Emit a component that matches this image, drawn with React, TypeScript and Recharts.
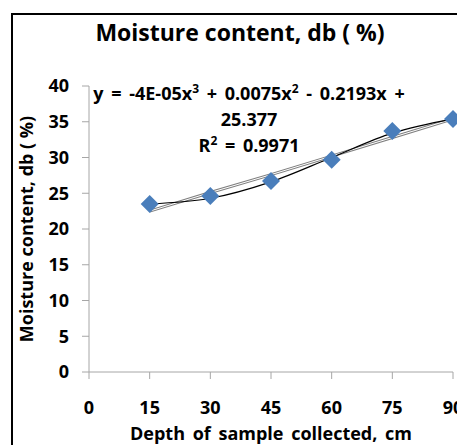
import React from "react";
import {
  LineChart,
  Line,
  XAxis,
  YAxis,
  Label,
} from "recharts";

// depth (cm) vs moisture content, dry basis (%)
const depths = [15, 30, 45, 60, 75, 90];
const moisture = [23.5, 24.6, 26.7, 29.7, 33.7, 35.4];
// polynomial (order 3) trend values at each depth
const polyTrend = [23.5, 24.3, 26.6, 30.0, 33.4, 35.4];
// linear trend values at each depth
const linearTrend = [22.5, 25.1, 27.6, 30.2, 32.8, 35.4];

const xTicks = [0, 15, 30, 45, 60, 75, 90];
const yTicks = [0, 5, 10, 15, 20, 25, 30, 35, 40];

const rows = depths.map((d, i) => ({
  depth: d,
  moisture: moisture[i],
  poly: polyTrend[i],
  linear: linearTrend[i],
}));

const font = "'Open Sans', Lato, sans-serif";
const axisGray = "#a6a6a6";
const markerBlue = "#4a7ebb";
const boldText = { fontWeight: 700, fill: "#000", fontFamily: font };

const Diamond = (props: any) => {
  const { cx, cy } = props;
  if (cx == null || cy == null) return null;
  const r = 9;
  return (
    <polygon
      points={`${cx},${cy - r} ${cx + r},${cy} ${cx},${cy + r} ${cx - r},${cy}`}
      fill={markerBlue}
    />
  );
};

const sup = { fontSize: 12, lineHeight: 0 };

export default function App() {
  return (
    <div
      style={{
        position: "fixed",
        left: 0,
        top: 0,
        width: 457,
        height: 445,
        overflow: "hidden",
        background: "#fff",
        fontFamily: font,
      }}
    >
      {/* chart frame */}
      <div
        style={{
          position: "absolute",
          left: 11,
          top: 13,
          width: 480,
          height: 480,
          border: "2px solid #000",
        }}
      />
      <div
        style={{
          position: "absolute",
          left: 0,
          top: 16,
          width: 480,
          textAlign: "center",
          fontSize: 23,
          fontWeight: 700,
          color: "#000",
        }}
      >
        Moisture content, db ( %)
      </div>

      <div style={{ position: "absolute", left: 0, top: 0 }}>
        <LineChart
          width={480}
          height={480}
          data={rows}
          margin={{ top: 86, right: 27, bottom: 48, left: 49 }}
        >
          <XAxis
            dataKey="depth"
            type="number"
            domain={[0, 90]}
            ticks={xTicks}
            interval={0}
            height={60}
            stroke={axisGray}
            tickSize={7}
            tickMargin={22}
            tick={{ fontSize: 18, ...boldText }}
          >
            <Label
              value="Depth of sample collected, cm"
              position="insideBottom"
              offset={-8}
              style={{ fontSize: 18, ...boldText, wordSpacing: 3 }}
            />
          </XAxis>
          <YAxis
            type="number"
            domain={[0, 40]}
            ticks={yTicks}
            interval={0}
            width={40}
            stroke={axisGray}
            tickSize={7}
            tickMargin={13}
            tick={{ fontSize: 18, ...boldText }}
          >
            <Label
              value="Moisture content, db ( %)"
              angle={-90}
              position="center"
              dx={-42}
              style={{ fontSize: 18, ...boldText, textAnchor: "middle" }}
            />
          </YAxis>
          {/* linear trend drawn as a hollow gray line */}
          <Line
            dataKey="linear"
            type="linear"
            stroke="#7f7f7f"
            strokeWidth={3}
            dot={false}
            activeDot={false}
            isAnimationActive={false}
          />
          <Line
            dataKey="linear"
            type="linear"
            stroke="#ffffff"
            strokeWidth={1}
            dot={false}
            activeDot={false}
            isAnimationActive={false}
          />
          <Line
            dataKey="moisture"
            stroke="none"
            dot={<Diamond />}
            activeDot={false}
            isAnimationActive={false}
          />
          <Line
            dataKey="poly"
            type="monotone"
            stroke="#000"
            strokeWidth={1.2}
            dot={false}
            activeDot={false}
            isAnimationActive={false}
          />
        </LineChart>
      </div>

      {/* trendline equation */}
      <div
        style={{
          position: "absolute",
          left: 49,
          top: 80,
          width: 400,
          textAlign: "center",
          fontSize: 18,
          fontWeight: 700,
          lineHeight: "26px",
          wordSpacing: 3,
          color: "#000",
          pointerEvents: "none",
        }}
      >
        <div>
          y = -4E-05x<sup style={sup}>3</sup> + 0.0075x<sup style={sup}>2</sup> - 0.2193x +
        </div>
        <div>25.377</div>
        <div>
          R<sup style={sup}>2</sup> = 0.9971
        </div>
      </div>
    </div>
  );
}
